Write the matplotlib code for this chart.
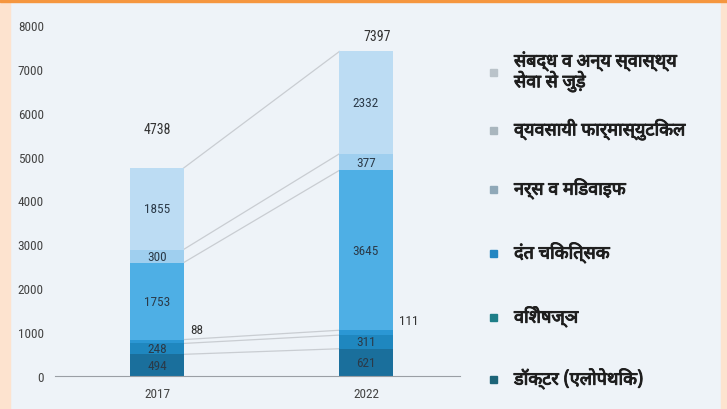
import matplotlib
matplotlib.use("Agg")
import matplotlib.pyplot as plt
import matplotlib.patheffects as pe
from matplotlib import font_manager
from matplotlib.patches import Rectangle
import numpy as np

# वर्ष
years = ["2017", "2022"]

# श्रेणियाँ (नीचे से ऊपर)
categories = [
    "डॉक्टर (एलोपेथिक)",
    "विशेषज्ञ",
    "दंत चिकित्सक",
    "नर्स व मिडवाइफ",
    "व्यवसायी फार्मास्युटिकल",
    "संबद्ध व अन्य स्वास्थ्य\nसेवा से जुड़े",
]

# मान, हर श्रेणी के लिए 2017 और 2022
doctor = [494, 621]
specialist = [248, 311]
dentist = [88, 111]
nurse = [1753, 3645]
pharma = [300, 377]
allied = [1855, 2332]

yticks = [0, 1000, 2000, 3000, 4000, 5000, 6000, 7000, 8000]

series = [doctor, specialist, dentist, nurse, pharma, allied]
bar_colors = ["#1a6f9c", "#1f87bf", "#2b97d4", "#4eafe5", "#9fcfef", "#bcdcf3"]
legend_colors = ["#1d6478", "#1e7e88", "#2386c2", "#8fa8b8", "#a9b6be", "#bac3ca"]

# देवनागरी फ़ॉन्ट
installed = set(f.name for f in font_manager.fontManager.ttflist)
deva = "FreeSans"
for name in ["Noto Sans Devanagari", "Hind", "Mukta", "Poppins", "Akshar", "FreeSans"]:
    if name in installed:
        deva = name
        break
hindi_font = [deva, "DejaVu Sans"]

num_font = ["DejaVu Sans"]
for name in ["Roboto Condensed", "Archivo Narrow", "Open Sans Condensed"]:
    if name in installed:
        num_font = [name, "DejaVu Sans"]
        break

fig = plt.figure(figsize=(7.27, 4.10), dpi=100, facecolor="#eef3f8")

# किनारे
fig.patches.append(Rectangle((0, 0), 10 / 727, 1, transform=fig.transFigure,
                             color="#fde3cf", zorder=0))
fig.patches.append(Rectangle((721 / 727, 0), 6 / 727, 1, transform=fig.transFigure,
                             color="#fde3cf", zorder=0))
fig.patches.append(Rectangle((0, 407 / 410), 1, 3 / 410, transform=fig.transFigure,
                             color="#f5963f", zorder=0))

ax = fig.add_axes([55 / 727, 33 / 410, 405 / 727, 351 / 410])
ax.set_facecolor("none")

x = np.arange(len(years))
width = 0.254
bottom = np.zeros(len(years))
tops = []
for vals, c in zip(series, bar_colors):
    vals = np.array(vals)
    ax.bar(x, vals, width, bottom=bottom, color=c, zorder=2)
    tops.append(bottom + vals)
    bottom = bottom + vals

# खंडों पर मान
bottom = np.zeros(len(years))
for vals in series:
    for i, v in enumerate(vals):
        if vals is dentist:
            ax.annotate(str(v), (x[i] + width / 2, bottom[i] + v / 2),
                        xytext=(5, 9), textcoords="offset points",
                        ha="left", va="center", fontsize=9.5, color="#333333",
                        family=num_font)
        else:
            ax.text(x[i], bottom[i] + v / 2, str(v), ha="center", va="center",
                    fontsize=9.5, color="#2b3a48", family=num_font, zorder=3)
    bottom = bottom + np.array(vals)

# कुल
total_offsets = [(0, 23), (8, 6)]
for i, t in enumerate(bottom):
    ax.annotate(str(int(t)), (x[i], t), xytext=total_offsets[i],
                textcoords="offset points", ha="center", va="bottom",
                fontsize=10, color="#333333", family=num_font)

# जोड़ने वाली रेखाएँ
for t in tops:
    ax.plot([x[0] + width / 2, x[1] - width / 2], [t[0], t[1]],
            color="#c9cdd2", lw=0.9, zorder=1)

ax.set_xlim(-0.488, 1.45)
ax.set_ylim(0, 8000)
ax.set_yticks(yticks)
ax.set_xticks(x)
ax.set_xticklabels(years)
for s in ["top", "right", "left"]:
    ax.spines[s].set_visible(False)
ax.spines["bottom"].set_color("#9a9fa5")
ax.spines["bottom"].set_linewidth(0.8)
ax.tick_params(length=0, labelsize=9.5, colors="#444444", pad=8)
for lab in ax.get_xticklabels() + ax.get_yticklabels():
    lab.set_family(num_font)

# लीजेंड
legend_y = [380, 318, 254, 190, 131, 73]
for name, c, yy in zip(categories, legend_colors, legend_y):
    fy = 1 - yy / 410
    fig.patches.append(Rectangle((490 / 727, fy - 3.5 / 410), 7 / 727, 7 / 410,
                                 transform=fig.transFigure, color=c))
    fig.text(514 / 727, fy, name, ha="left", va="center", fontsize=13,
             fontweight="bold", color="#1e1e1e", family=hindi_font,
             linespacing=1.0,
             path_effects=[pe.withStroke(linewidth=0.7, foreground="#1e1e1e")])

fig.savefig("out.png", dpi=100, facecolor=fig.get_facecolor())
